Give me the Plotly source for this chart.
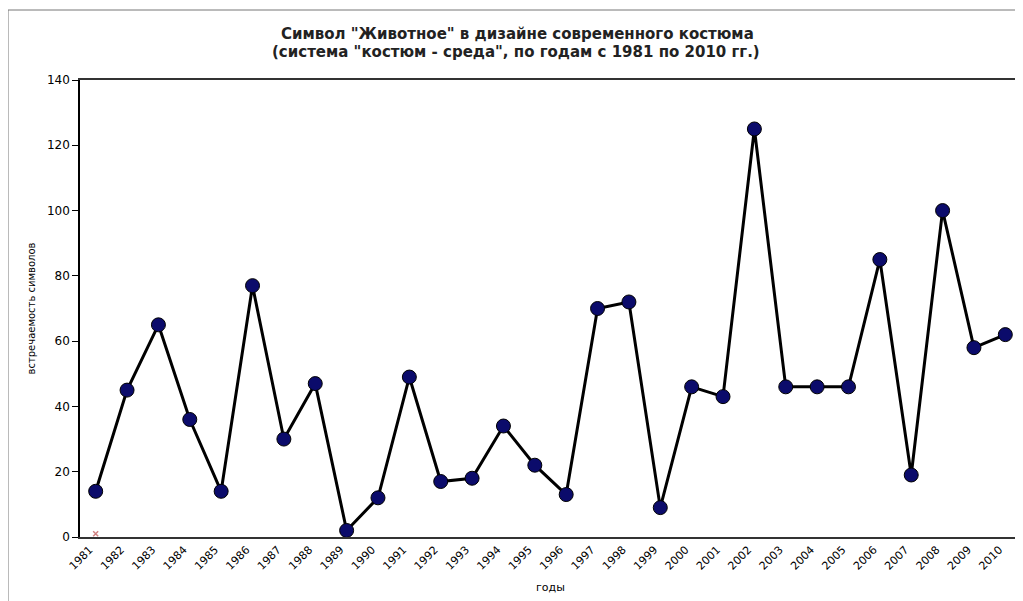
import plotly.graph_objects as go

years = [str(y) for y in range(1981, 2011)]
counts = [14, 45, 65, 36, 14, 77, 30, 47, 2, 12, 49, 17, 18, 34, 22, 13, 70, 72, 9, 46,
          43, 125, 46, 46, 46, 85, 19, 100, 58, 62]
extra_x = ["1981"]
extra_y = [1]

title_line1 = "Символ \"Животное\" в дизайне современного костюма"
title_line2 = "(система \"костюм - среда\", по годам с 1981 по 2010 гг.)"
y_title = "встречаемость символов"
x_title = "годы"

FONT = "DejaVu Sans, Verdana, sans-serif"

# the page body has an 8px margin, so the figure is drawn offset by 8px
OFF = 8
# target plot area in screen pixels: x 80..1021, y 80..537
PLOT_TOP, PLOT_BOTTOM, PLOT_LEFT, PLOT_RIGHT = 80 - OFF, 537 - OFF, 80 - OFF, 1021 - OFF
FIG_W, FIG_H = 1023, 601
H = PLOT_BOTTOM - PLOT_TOP
W = PLOT_RIGHT - PLOT_LEFT


def py(pix):
    return (PLOT_BOTTOM - (pix - OFF)) / H


def px(pix):
    return ((pix - OFF) - PLOT_LEFT) / W


fig = go.Figure()
fig.add_trace(go.Scatter(
    x=years, y=counts, mode="lines+markers",
    line=dict(color="black", width=3),
    marker=dict(color="#0b0b6b", size=14, line=dict(color="black", width=1)),
    showlegend=False, cliponaxis=False,
))
fig.add_trace(go.Scatter(
    x=extra_x, y=extra_y, mode="markers",
    marker=dict(symbol="x-thin", size=5, color="#d08080", line=dict(color="#d08080", width=1.5)),
    showlegend=False,
))

fig.update_layout(
    width=FIG_W, height=FIG_H,
    margin=dict(l=PLOT_LEFT, r=FIG_W - PLOT_RIGHT, t=PLOT_TOP, b=FIG_H - PLOT_BOTTOM, pad=0),
    paper_bgcolor="white", plot_bgcolor="white",
    font=dict(family=FONT, color="black"),
    xaxis=dict(
        type="category", range=[-0.5, 29.5], automargin=False,
        showline=True, linecolor="#333", linewidth=2, mirror=True,
        showgrid=False, ticks="", tickangle=-45, ticklabelshift=-6,
        tickfont=dict(size=11, family=FONT),
        title=dict(text=x_title, font=dict(size=11, family=FONT), standoff=12),
    ),
    yaxis=dict(
        range=[0, 140], dtick=20, automargin=False,
        showline=True, linecolor="black", linewidth=1.5,
        showgrid=False, zeroline=False, ticks="outside", ticklen=6, tickcolor="black",
        tickfont=dict(size=12, family=FONT),
        title=dict(text=y_title, font=dict(size=10, family=FONT), standoff=9),
    ),
    annotations=[
        dict(text="<b>" + title_line1 + "</b>", xref="paper", yref="paper", x=px(517), y=py(34),
             xanchor="center", yanchor="middle", showarrow=False,
             font=dict(size=15, family=FONT, color="#222")),
        dict(text="<b>" + title_line2 + "</b>", xref="paper", yref="paper", x=px(516), y=py(52),
             xanchor="center", yanchor="middle", showarrow=False,
             font=dict(size=15, family=FONT, color="#222")),
    ],
    shapes=[
        dict(type="line", xref="paper", yref="paper", x0=px(8), x1=px(1023), y0=py(10), y1=py(10),
             line=dict(color="#777", width=1)),
        dict(type="line", xref="paper", yref="paper", x0=px(8), x1=px(8), y0=py(10), y1=py(610),
             line=dict(color="#777", width=1)),
        dict(type="line", xref="paper", yref="paper", x0=px(1020), x1=px(1020), y0=py(500), y1=py(610),
             line=dict(color="#ccc", width=1)),
    ],
)

fig.write_html("out.html")
